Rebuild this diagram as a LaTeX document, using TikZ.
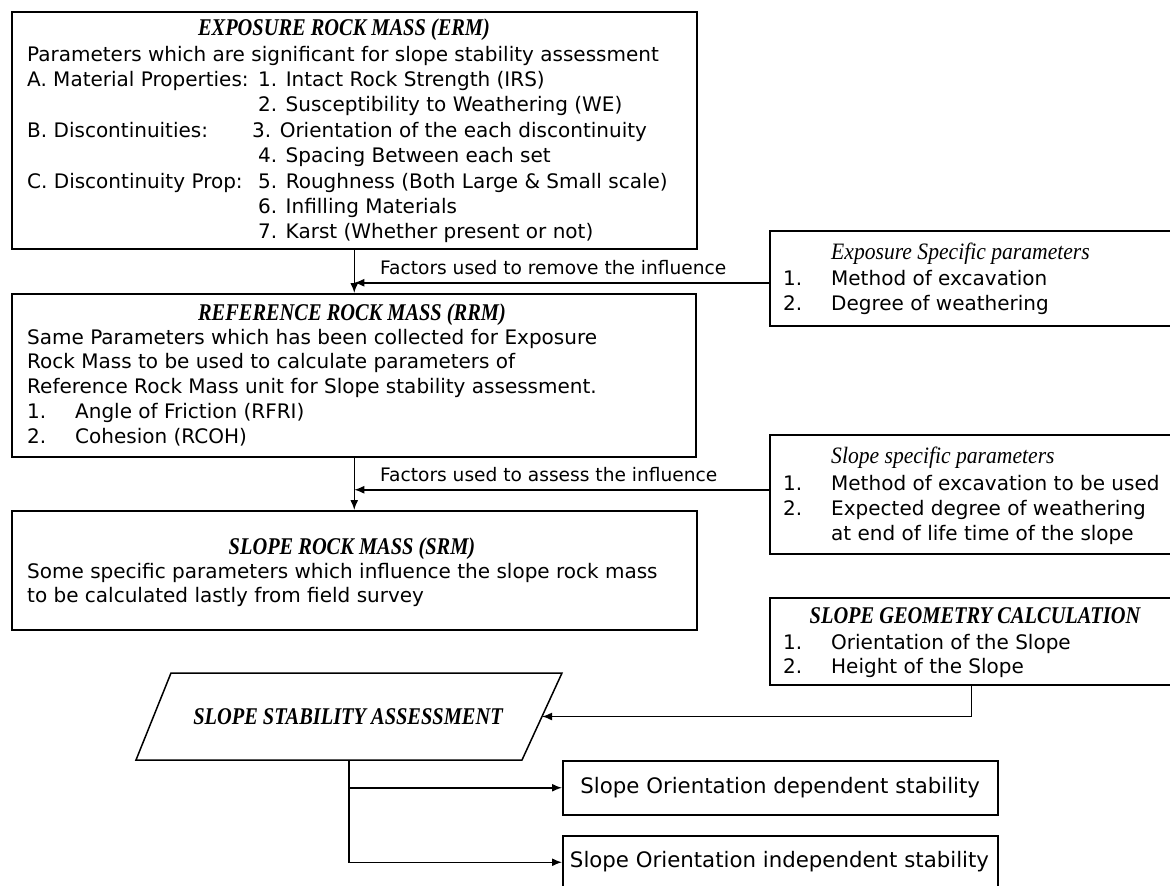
\documentclass[tikz,border=0pt]{standalone}
\usepackage{fontspec}
\setmainfont{DejaVu Sans}
% narrow serif for the box titles
\newfontfamily\headfont{Liberation Serif}[FakeStretch=0.85]
\newfontfamily\subheadfont{Liberation Serif}[FakeStretch=0.92]
\usetikzlibrary{arrows.meta,calc}

\begin{document}
\begin{tikzpicture}[x=1pt,y=-1pt,
  frame/.style={draw, line width=1.5pt, rectangle, inner sep=0pt, anchor=north west},
  head/.style={font=\headfont\fontsize{24}{26}\selectfont\bfseries\itshape, inner sep=0pt, anchor=base},
  subhead/.style={font=\subheadfont\fontsize{23.5}{26}\selectfont\itshape, inner sep=0pt, anchor=base west},
  body/.style={font=\fontsize{20}{25.4}\selectfont, inner sep=0pt, anchor=base west},
  label/.style={font=\fontsize{18.6}{22}\selectfont, inner sep=0pt, anchor=base west},
  result/.style={font=\fontsize{21.3}{25}\selectfont, inner sep=0pt, anchor=center},
  flow/.style={line width=1.5pt, -{Latex[length=10pt,width=8pt]}},
]
\useasboundingbox (0,0) rectangle (1170,886);

% ---------- main column ----------
\node[frame, minimum width=685pt, minimum height=237pt] (erm) at (11,11) {};
\node[head] (erm-h) at (344,35) {EXPOSURE ROCK MASS (ERM)};
\node[body] (erm-t) at (27,61) {\begin{tabular}[t]{@{}l@{}}
Parameters which are significant for slope stability assessment\\
\makebox[231pt][l]{A. Material Properties:}1. Intact Rock Strength (IRS)\\
\hspace*{231pt}2. Susceptibility to Weathering (WE)\\
\makebox[225pt][l]{B. Discontinuities:}3. Orientation of the each discontinuity\\
\hspace*{231pt}4. Spacing Between each set\\
\makebox[231pt][l]{C. Discontinuity Prop:}5. Roughness (Both Large \& Small scale)\\
\hspace*{231pt}6. Infilling Materials\\
\hspace*{231pt}7. Karst (Whether present or not)
\end{tabular}};

\node[frame, minimum width=684pt, minimum height=163pt] (rrm) at (11,293) {};
\node[head] (rrm-h) at (352,320) {REFERENCE ROCK MASS (RRM)};
\node[body, font=\fontsize{20}{24.8}\selectfont] (rrm-t) at (27,344) {\begin{tabular}[t]{@{}l@{}}
Same Parameters which has been collected for Exposure\\
Rock Mass to be used to calculate parameters of\\
Reference Rock Mass unit for Slope stability assessment.\\
\makebox[48pt][l]{1.}Angle of Friction (RFRI)\\
\makebox[48pt][l]{2.}Cohesion (RCOH)
\end{tabular}};

\node[frame, minimum width=685pt, minimum height=119pt] (srm) at (11,510) {};
\node[head] (srm-h) at (352,554) {SLOPE ROCK MASS (SRM)};
\node[body, font=\fontsize{20}{24.2}\selectfont] (srm-t) at (27,578) {\begin{tabular}[t]{@{}l@{}}
Some specific parameters which influence the slope rock mass\\
to be calculated lastly from field survey
\end{tabular}};

% ---------- side inputs ----------
\node[frame, minimum width=403pt, minimum height=95pt] (exp) at (769,230) {};
\node[subhead] (exp-h) at (831,259) {Exposure Specific parameters};
\node[body] (exp-t) at (783,285) {\begin{tabular}[t]{@{}l@{}}
\makebox[48pt][l]{1.}Method of excavation\\
\makebox[48pt][l]{2.}Degree of weathering
\end{tabular}};

\node[frame, minimum width=403pt, minimum height=119pt] (slp) at (769,434) {};
\node[subhead] (slp-h) at (831,463) {Slope specific parameters};
\node[body, font=\fontsize{20}{25}\selectfont] (slp-t) at (783,490) {\begin{tabular}[t]{@{}l@{}}
\makebox[48pt][l]{1.}Method of excavation to be used\\
\makebox[48pt][l]{2.}Expected degree of weathering\\
\hspace*{48pt}at end of life time of the slope
\end{tabular}};

\node[frame, minimum width=403pt, minimum height=87pt] (geo) at (769,597) {};
\node[head] (geo-h) at (975,623) {SLOPE GEOMETRY CALCULATION};
\node[body, font=\fontsize{20}{24.2}\selectfont] (geo-t) at (783,649) {\begin{tabular}[t]{@{}l@{}}
\makebox[48pt][l]{1.}Orientation of the Slope\\
\makebox[48pt][l]{2.}Height of the Slope
\end{tabular}};

% ---------- assessment ----------
\coordinate (ssa-nw) at (171,673);
\coordinate (ssa-ne) at (562,673);
\coordinate (ssa-se) at (522,760);
\coordinate (ssa-sw) at (136,760);
\coordinate (ssa-e) at ($(ssa-ne)!0.5!(ssa-se)$);
\coordinate (ssa-s) at (349,760);
\draw[line width=1.5pt] (ssa-nw) -- (ssa-ne) -- (ssa-se) -- (ssa-sw) -- cycle;
\node[head] (ssa) at (348,724) {SLOPE STABILITY ASSESSMENT};

\node[frame, minimum width=435pt, minimum height=54pt] (dep) at (562,760) {};
\node[result] (dep-t) at (dep.center) {Slope Orientation dependent stability};
\node[frame, minimum width=435pt, minimum height=53pt] (ind) at (562,835) {};
\node[result] (ind-t) at (779.5,862) {Slope Orientation independent stability};

% ---------- connectors ----------
\draw[flow] (erm.south) -- (rrm.north -| erm.south);
\draw[flow] ([yshift=-4.5pt]exp.west) -- ([yshift=-4.5pt]exp.west -| erm.south);
\node[label] (lab1) at (380,274) {Factors used to remove the influence};

\draw[flow] (rrm.south -| erm.south) -- (srm.north -| erm.south);
\draw[flow] ([yshift=4.5pt]slp.west) -- ([yshift=4.5pt]slp.west -| erm.south);
\node[label] (lab2) at (380,481) {Factors used to assess the influence};

\draw[flow] (geo.south) |- (ssa-e);
\draw[flow] (ssa-s) |- (ind.west);
\draw[flow] (ssa-s |- dep.west) -- (dep.west);
\end{tikzpicture}
\end{document}
